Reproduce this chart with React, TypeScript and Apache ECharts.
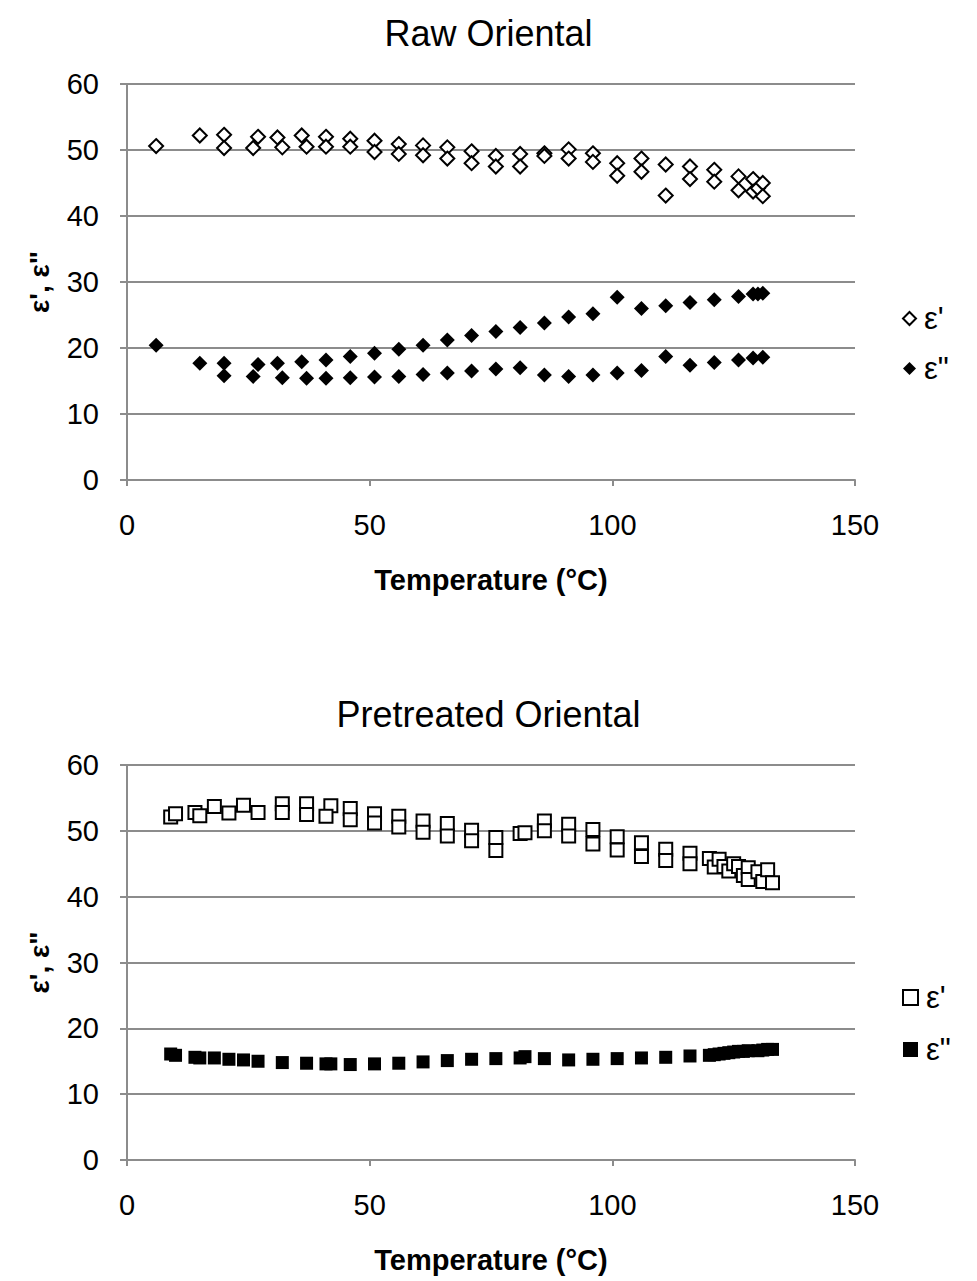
import React, { useEffect, useRef } from "react";
import * as echarts from "echarts";

const xTicks = [0, 50, 100, 150];
const yTicks = [0, 10, 20, 30, 40, 50, 60];
const titles = ["Raw Oriental", "Pretreated Oriental"];
const xTitle = "Temperature (°C)";
const yTitle = "ε', ε\"";
const seriesNames = ["ε'", "ε\""];

// Raw Oriental: [temperature °C, value]
const rawEps1: number[][] = [
  [6, 50.6], [15, 52.2], [20, 52.3], [20, 50.3], [26, 50.3], [27, 52.0], [31, 51.9], [32, 50.4],
  [36, 52.2], [37, 50.5], [41, 52.0], [41, 50.5], [46, 51.7], [46, 50.5], [51, 51.4], [51, 49.7],
  [56, 50.9], [56, 49.4], [61, 50.7], [61, 49.2], [66, 50.4], [66, 48.7], [71, 49.8], [71, 48.0],
  [76, 49.1], [76, 47.5], [81, 49.4], [81, 47.5], [86, 49.5], [86, 49.1], [91, 50.1], [91, 48.7],
  [96, 49.5], [96, 48.2], [101, 48.0], [101, 46.1], [106, 48.7], [106, 46.7], [111, 47.8], [111, 43.1],
  [116, 47.5], [116, 45.6], [121, 47.0], [121, 45.2], [126, 46.0], [126, 43.9], [129, 45.6], [129, 43.7],
  [130, 44.2], [131, 45.0], [131, 43.0],
];
const rawEps2: number[][] = [
  [6, 20.4], [15, 17.7], [20, 17.7], [20, 15.8], [27, 17.5], [26, 15.7], [31, 17.7], [32, 15.5],
  [36, 17.9], [37, 15.4], [41, 18.2], [41, 15.4], [46, 18.7], [46, 15.5], [51, 19.2], [51, 15.6],
  [56, 19.8], [56, 15.7], [61, 20.4], [61, 16.0], [66, 21.2], [66, 16.2], [71, 21.9], [71, 16.5],
  [76, 22.5], [76, 16.8], [81, 23.1], [81, 17.0], [86, 23.8], [86, 15.9], [91, 24.7], [91, 15.7],
  [96, 25.2], [96, 15.9], [101, 27.7], [101, 16.2], [106, 26.0], [106, 16.6], [111, 26.4], [111, 18.7],
  [116, 26.9], [116, 17.4], [121, 27.3], [121, 17.8], [126, 27.8], [126, 18.2], [129, 28.2], [129, 18.5],
  [130, 28.2], [131, 28.3], [131, 18.6],
];

// Pretreated Oriental: [temperature °C, value]
const preEps1: number[][] = [
  [9, 52.1], [10, 52.6], [14, 52.8], [15, 52.3], [18, 53.7], [21, 52.7], [24, 53.9], [27, 52.8],
  [32, 54.1], [32, 52.8], [37, 54.1], [37, 52.5], [42, 53.8], [41, 52.2], [46, 53.4], [46, 51.7],
  [51, 52.6], [51, 51.2], [56, 52.2], [56, 50.6], [61, 51.5], [61, 49.8], [66, 51.1], [66, 49.2],
  [71, 50.1], [71, 48.5], [76, 49.0], [76, 47.0], [81, 49.6], [82, 49.7], [86, 51.5], [86, 50.0],
  [91, 51.0], [91, 49.2], [96, 50.2], [96, 48.0], [101, 49.1], [101, 47.1], [106, 48.2], [106, 46.1],
  [111, 47.2], [111, 45.5], [116, 46.6], [116, 45.0], [120, 45.8], [121, 44.5], [122, 45.7], [123, 44.6],
  [124, 43.9], [125, 45.0], [126, 44.6], [127, 43.2], [128, 44.4], [128, 42.6], [130, 43.8], [131, 42.3],
  [132, 44.1], [133, 42.1],
];
const preEps2: number[][] = [
  [9, 16.1], [10, 15.9], [14, 15.6], [15, 15.5], [18, 15.5], [21, 15.3], [24, 15.2], [27, 15.0],
  [32, 14.8], [37, 14.7], [41, 14.6], [42, 14.6], [46, 14.5], [51, 14.6], [56, 14.7], [61, 14.9],
  [66, 15.1], [71, 15.3], [76, 15.4], [81, 15.5], [82, 15.7], [86, 15.4], [91, 15.2], [96, 15.3],
  [101, 15.4], [106, 15.5], [111, 15.6], [116, 15.8], [120, 15.9], [121, 16.0], [122, 16.1], [123, 16.2],
  [124, 16.3], [125, 16.4], [126, 16.5], [127, 16.5], [128, 16.6], [130, 16.6], [131, 16.7], [132, 16.8],
  [133, 16.8],
];

const FONT = "'Liberation Sans', Arial, sans-serif";
const GRID_COLOR = "#8c8c8c";

export default function App() {
  const ref = useRef<HTMLDivElement>(null);

  useEffect(() => {
    if (!ref.current) return;
    const chart = echarts.init(ref.current, null, { renderer: "svg" });

    const xAxisCfg = (gridIndex: number) => ({
      type: "value",
      gridIndex,
      min: xTicks[0],
      max: xTicks[xTicks.length - 1],
      interval: 50,
      name: xTitle,
      nameLocation: "middle",
      nameGap: 85,
      nameTextStyle: { fontFamily: FONT, fontSize: 29, fontWeight: "bold", color: "#000" },
      axisLine: { show: true, onZero: false, lineStyle: { color: GRID_COLOR, width: 2 } },
      axisTick: { show: true, length: 6, lineStyle: { color: GRID_COLOR, width: 2 } },
      axisLabel: { fontFamily: FONT, fontSize: 29, color: "#000", margin: 30 },
      splitLine: { show: false },
    });
    const yAxisCfg = (gridIndex: number) => ({
      type: "value",
      gridIndex,
      min: yTicks[0],
      max: yTicks[yTicks.length - 1],
      interval: 10,
      name: yTitle,
      nameLocation: "middle",
      nameGap: 74,
      nameRotate: 90,
      nameTextStyle: { fontFamily: FONT, fontSize: 28, fontWeight: "bold", color: "#000" },
      axisLine: { show: true, lineStyle: { color: GRID_COLOR, width: 2 } },
      axisTick: { show: true, length: 7, lineStyle: { color: GRID_COLOR, width: 2 } },
      axisLabel: { fontFamily: FONT, fontSize: 29, color: "#000", margin: 28 },
      splitLine: { show: true, lineStyle: { color: GRID_COLOR, width: 2 } },
    });

    const openStyle = { color: "#ffffff", borderColor: "#000000", borderWidth: 2, opacity: 1 };
    const fillStyle = { color: "#000000", borderColor: "#000000", borderWidth: 0, opacity: 1 };
    const legendText = { fontFamily: FONT, fontSize: 31, color: "#000", padding: [0, 0, 0, 3] };

    chart.setOption({
      animation: false,
      backgroundColor: "#ffffff",
      title: [
        { text: titles[0], left: "center", top: 10, textStyle: { fontFamily: FONT, fontSize: 36, fontWeight: "normal", color: "#000" } },
        { text: titles[1], left: "center", top: 691, textStyle: { fontFamily: FONT, fontSize: 36, fontWeight: "normal", color: "#000" } },
      ],
      legend: [
        {
          orient: "vertical",
          left: 897,
          top: 298,
          itemGap: 19,
          itemWidth: 13,
          itemHeight: 13,
          data: [
            { name: seriesNames[0] + " ", icon: "diamond" },
            { name: seriesNames[1] + " ", icon: "diamond" },
          ],
          textStyle: legendText,
        },
        {
          orient: "vertical",
          left: 897,
          top: 977,
          itemGap: 21,
          itemWidth: 15,
          itemHeight: 15,
          data: [
            { name: seriesNames[0], icon: "rect" },
            { name: seriesNames[1], icon: "rect" },
          ],
          textStyle: legendText,
        },
      ],
      grid: [
        { left: 127, top: 84, width: 728, height: 396 },
        { left: 127, top: 765, width: 728, height: 395 },
      ],
      xAxis: [xAxisCfg(0), xAxisCfg(1)],
      yAxis: [yAxisCfg(0), yAxisCfg(1)],
      series: [
        {
          name: seriesNames[0] + " ",
          type: "scatter",
          xAxisIndex: 0,
          yAxisIndex: 0,
          symbol: "diamond",
          symbolSize: 14,
          itemStyle: openStyle,
          data: rawEps1,
          z: 3,
        },
        {
          name: seriesNames[1] + " ",
          type: "scatter",
          xAxisIndex: 0,
          yAxisIndex: 0,
          symbol: "diamond",
          symbolSize: 15,
          itemStyle: fillStyle,
          data: rawEps2,
          z: 3,
        },
        {
          name: seriesNames[0],
          type: "scatter",
          xAxisIndex: 1,
          yAxisIndex: 1,
          symbol: "rect",
          symbolSize: 13,
          itemStyle: openStyle,
          data: preEps1,
          z: 3,
        },
        {
          name: seriesNames[1],
          type: "scatter",
          xAxisIndex: 1,
          yAxisIndex: 1,
          symbol: "rect",
          symbolSize: 13,
          itemStyle: fillStyle,
          data: preEps2,
          z: 3,
        },
      ],
    });

    return () => chart.dispose();
  }, []);

  return (
    <div
      ref={ref}
      style={{ position: "fixed", left: 0, top: 0, width: 977, height: 1281, background: "#fff" }}
    />
  );
}
